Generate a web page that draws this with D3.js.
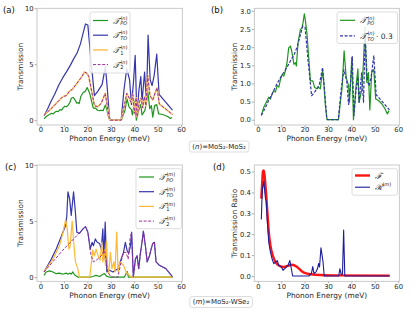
<!DOCTYPE html>
<html>
<head>
<meta charset="utf-8">
<script src="https://cdn.jsdelivr.net/npm/d3@7"></script>
<style>
  body { margin: 0; background: #fff; }
  svg { display: block; }
</style>
</head>
<body>
<svg id="chart" width="416" height="330"></svg>
<script>
const FONT = "DejaVu Sans, sans-serif";
const MATH_FONT = "DejaVu Serif, serif";

const X_DOMAIN = [-1.5, 60.5];
const X_TICKS = [0, 10, 20, 30, 40, 50, 60];
const Y_TICKS_AC = [0, 5, 10];
const Y_TICKS_B = [0, 0.5, 1.0, 1.5, 2.0, 2.5, 3.0];
const Y_TICKS_D = [0, 0.1, 0.2, 0.3, 0.4, 0.5];

// (n) = MoS2-MoS2, [energy meV, transmission]
const poN = [[1.5,0.12],[2.6,0.35],[4.0,0.53],[4.7,0.62],[5.4,0.57],[6.1,0.71],[6.8,0.80],[7.5,0.76],[8.3,0.94],[9.0,0.90],[9.7,1.12],[10.4,1.25],[11.1,1.20],[11.8,1.35],[12.5,1.57],[13.2,1.98],[13.9,2.03],[14.4,1.92],[14.9,1.75],[15.4,1.53],[16.1,1.57],[16.5,1.48],[17.2,2.12],[18.2,2.48],[18.9,2.53],[19.3,2.66],[19.9,2.92],[20.3,2.75],[21.0,2.39],[22.5,1.07],[23.5,1.07],[24.3,0.89],[25.3,0.85],[26.0,0.89],[26.7,0.85],[27.7,1.35],[28.2,1.03],[28.9,0.39],[29.6,0],[34.5,0],[35.3,0.48],[36.0,0.85],[36.9,1.90],[37.8,1.16],[38.8,0.94],[39.2,0.48],[40.2,1.71],[40.9,0],[41.9,0.85],[42.8,1.40],[43.3,0.48],[44.5,0.85],[45.2,1.60],[45.8,2.55],[46.6,1.03],[47.3,1.30],[47.9,0.27],[48.7,1.30],[49.6,1.39],[50.4,0.57],[51.6,0.53],[53.0,0.44],[54.4,0.30],[55.4,0.16],[56.1,0.25]];
const toN = [[1.5,0.4],[3.0,1.0],[4.5,1.7],[6.0,2.3],[7.7,3.1],[9.5,3.8],[11.0,4.3],[12.7,4.9],[14.2,5.5],[15.6,6.0],[17.0,6.8],[18.2,7.8],[19.2,8.6],[20.2,8.5],[21.5,5.4],[23.0,2.2],[24.5,2.6],[26.3,3.2],[27.7,4.8],[28.5,2.8],[29.4,0.3],[29.8,0],[34.4,0],[35.6,2.7],[36.8,4.6],[38.0,3.6],[38.8,1.4],[39.6,3.2],[40.4,5.8],[41.1,0.4],[42.0,2.7],[42.8,3.9],[43.3,1.6],[44.4,4.3],[45.2,1.6],[45.9,7.6],[46.8,3.6],[47.6,3.1],[48.5,4.0],[49.6,5.9],[50.6,2.3],[56.3,0.9]];
const t1N = [[1.5,0.45],[3.9,0.9],[6.7,1.5],[9.5,2.1],[11.0,2.2],[12.4,2.6],[13.5,2.75],[15.2,3.2],[17.3,3.8],[18.8,4.3],[19.8,4.2],[20.6,3.9],[22.0,2.4],[23.0,1.3],[24.4,1.2],[25.9,1.5],[27.6,2.4],[28.4,1.4],[29.4,0.1],[29.8,0],[34.4,0],[35.8,1.35],[36.8,2.4],[37.9,1.95],[38.6,1.6],[39.4,2.3],[40.0,0.6],[40.8,2.0],[41.2,0.3],[42.2,1.65],[42.9,2.0],[43.6,1.1],[44.3,2.1],[45.0,1.3],[45.7,4.0],[46.7,2.2],[47.9,1.8],[49.0,2.5],[49.7,2.9],[50.7,1.45],[56.4,0.5]];
const t2N = [[1.5,0.45],[3.9,0.9],[6.7,1.5],[9.5,2.1],[11.0,2.2],[12.4,2.6],[13.5,2.75],[15.2,3.2],[17.3,3.8],[18.8,4.3],[19.8,4.2],[20.6,3.9],[22.0,2.4],[23.0,1.3],[24.4,1.2],[25.9,1.5],[27.6,2.4],[28.4,1.4],[29.4,0.1],[29.8,0],[34.4,0],[35.8,1.35],[36.8,2.4],[37.9,1.95],[38.6,1.6],[39.4,2.3],[40.0,0.6],[40.8,2.0],[41.2,0.3],[42.2,1.65],[42.9,2.0],[43.6,1.1],[44.3,2.1],[45.0,1.3],[45.7,4.0],[46.7,2.2],[47.9,1.8],[49.0,2.5],[49.7,2.9],[50.7,1.45],[56.4,0.5]];
const TO_SCALE = 0.3;

// (m) = MoS2-WSe2
const poM = [[1.5,0.15],[2.4,0.45],[3.9,0.55],[5.3,0.45],[6.7,0.3],[8.1,0.35],[9.5,0.25],[10.9,0.35],[11.7,0.25],[12.4,0.35],[13.1,0.27],[13.8,0.45],[14.5,0.2],[15.9,0],[21.5,0],[22.3,0.05],[23.7,0.15],[25.2,0.05],[26.6,0.25],[27.3,0.3],[28.0,0.1],[29.1,0],[35.8,0],[36.5,0.3],[37.0,0.5],[37.5,0],[56.4,0]];
const toM = [[1.5,0.45],[3.0,1.0],[4.6,1.6],[6.7,2.5],[8.8,3.6],[10.7,4.6],[11.2,5.4],[11.7,7.6],[12.4,7.0],[13.1,5.5],[14.1,7.6],[14.8,6.0],[15.5,4.0],[16.6,3.9],[18.1,4.3],[19.2,4.5],[20.2,4.0],[21.2,2.5],[22.0,3.1],[22.6,2.8],[23.4,3.4],[24.2,3.1],[25.2,3.0],[25.9,2.5],[26.6,4.3],[27.0,1.6],[27.6,4.9],[28.3,0.45],[29.5,0.6],[30.9,0.45],[33.0,0.75],[34.4,1.6],[35.4,2.2],[36.2,3.1],[36.9,2.4],[37.6,2.1],[38.4,2.8],[38.9,4.0],[39.6,0],[40.5,1.6],[41.2,1.9],[41.9,0.75],[42.6,2.1],[43.3,3.1],[43.9,4.1],[44.8,2.7],[45.5,1.35],[46.5,1.9],[47.2,2.5],[47.9,3.0],[48.6,3.1],[49.3,1.35],[50.7,1.05],[53.5,0.75],[56.4,0]];
const t1M = [[1.5,0.45],[5.3,1.6],[8.1,2.8],[9.5,3.9],[10.7,5.1],[11.4,4.3],[12.1,2.5],[12.6,2.7],[13.5,5.0],[14.2,3.0],[14.9,1.35],[15.9,0.75],[16.6,0],[21.0,0],[22.3,2.4],[23.0,1.9],[23.7,2.5],[24.6,1.9],[25.4,1.5],[26.1,3.1],[26.6,1.35],[27.3,2.4],[27.7,1.05],[28.2,3.2],[28.6,1.0],[29.1,0.3],[29.8,2.2],[30.5,0.75],[31.3,1.35],[31.8,0.45],[32.5,4.0],[33.1,0.45],[33.9,1.35],[35.4,1.05],[36.5,0.45],[38.6,0],[56.4,0]];
const t2M = [[1.5,0.45],[9.5,2.4],[19.2,4.5],[20.2,4.0],[21.6,1.9],[22.6,1.35],[24.4,1.6],[25.9,1.9],[27.3,2.4],[28.7,0.45],[30.1,0],[33.0,0],[34.4,1.35],[35.4,2.2],[36.5,2.2],[37.4,1.6],[38.2,3.4],[38.8,4.0],[39.6,0],[40.5,1.6],[41.2,1.9],[41.9,0.75],[42.6,2.1],[43.3,3.1],[43.9,4.1],[44.8,2.7],[45.5,1.35],[46.5,1.9],[47.2,2.5],[47.9,3.0],[48.6,3.1],[49.3,1.35],[50.7,1.05],[53.5,0.75],[56.4,0]];

// (d) transmission ratio
const ratioF = [[1.5,0.37],[1.9,0.45],[2.2,0.50],[2.5,0.505],[2.8,0.49],[3.3,0.43],[4.0,0.32],[4.7,0.21],[5.4,0.145],[6.4,0.098],[7.6,0.066],[9.0,0.05],[11.1,0.043],[13.2,0.05],[14.7,0.054],[16.8,0.043],[18.9,0.022],[21.1,0.011],[24.6,0.006],[33.1,0.003],[56.4,0.002]];
const ratioR = [[1.5,0.27],[1.9,0.41],[2.6,0.455],[3.0,0.40],[3.3,0.37],[3.6,0.36],[4.0,0.27],[4.7,0.16],[5.4,0.114],[6.1,0.082],[6.8,0.059],[7.6,0.066],[8.3,0.074],[9.0,0.05],[10.1,0.043],[10.8,0.027],[11.5,0.035],[12.2,0.043],[12.9,0.05],[13.7,0.074],[14.2,0.043],[14.9,0],[21.8,0],[22.9,0.011],[23.5,0.045],[24.0,0.011],[24.9,0.02],[25.6,0.038],[26.0,0.06],[26.4,0.043],[27.0,0.135],[27.4,0.106],[27.9,0.066],[28.4,0],[34.6,0],[35.1,0.035],[35.7,0.006],[36.2,0.01],[36.7,0.22],[37.2,0],[56.4,0]];

const GREEN = "#1e961e";
const BLUE = "#3535ad";
const NAVY = "#1c1c9c";
const ORANGE_PALE = "#ffcc73";
const ORANGE = "#ffb833";
const PURPLE = "#9a2f9a";
const RED = "#ff1414";

const svg = d3.select("#chart");

function makePanel(tag, box, yDomain, yTicks, yFmt, yLabel, yLabelX, xLabelGap) {
  const x = d3.scaleLinear().domain(X_DOMAIN).range([box.l, box.r]);
  const y = d3.scaleLinear().domain(yDomain).range([box.b, box.t]);
  const g = svg.append("g").attr("class", "panel-" + tag);

  svg.append("clipPath").attr("id", "clip-" + tag)
    .append("rect").attr("x", box.l).attr("y", box.t)
    .attr("width", box.r - box.l).attr("height", box.b - box.t);

  const xAxis = g.append("g").attr("transform", `translate(0,${box.b})`)
    .call(d3.axisBottom(x).tickValues(X_TICKS).tickSize(2).tickPadding(0.4).tickFormat(d3.format("d")));
  const yAxis = g.append("g").attr("transform", `translate(${box.l},0)`)
    .call(d3.axisLeft(y).tickValues(yTicks).tickSize(2.5).tickPadding(0.9).tickFormat(yFmt));
  [xAxis, yAxis].forEach(a => {
    a.attr("font-family", FONT).attr("font-size", 6.8);
    a.select(".domain").remove();
    a.selectAll(".tick line").attr("stroke", "#777").attr("stroke-width", 0.6);
    a.selectAll(".tick text").attr("fill", "#262626");
  });

  g.append("text")
    .attr("x", (box.l + box.r) / 2).attr("y", box.b + xLabelGap)
    .attr("text-anchor", "middle").attr("font-family", FONT).attr("font-size", 7.4)
    .attr("fill", "#262626").text("Phonon Energy (meV)");
  g.append("text")
    .attr("transform", `translate(${yLabelX},${(box.t + box.b) / 2}) rotate(-90)`)
    .attr("dy", "0.35em").attr("text-anchor", "middle")
    .attr("font-family", FONT).attr("font-size", 7.4).attr("fill", "#262626")
    .text(yLabel);

  const plot = g.append("g").attr("clip-path", `url(#clip-${tag})`);

  g.append("rect").attr("x", box.l).attr("y", box.t)
    .attr("width", box.r - box.l).attr("height", box.b - box.t)
    .attr("fill", "none").attr("stroke", "#bcbcbc").attr("stroke-width", 0.8);

  return { x, y, g, plot };
}

function drawLine(p, data, color, width, dash, curve) {
  const line = d3.line().x(d => p.x(d[0])).y(d => p.y(d[1])).curve(curve || d3.curveLinear);
  p.plot.append("path").datum(data)
    .attr("fill", "none").attr("stroke", color).attr("stroke-width", width)
    .attr("stroke-linejoin", "round")
    .attr("stroke-dasharray", dash || null)
    .attr("d", line);
}

function mathLabel(g, x0, yb, sym, sup, sub, tail) {
  const main = g.append("text").attr("x", x0).attr("y", yb)
    .attr("font-family", MATH_FONT).attr("font-style", "italic").attr("font-size", 8.5)
    .attr("fill", "#262626").text(sym);
  const w = main.node().getComputedTextLength();
  let right = x0 + w;
  if (sup) {
    const s = g.append("text").attr("x", x0 + w + 0.4).attr("y", yb - 3.8)
      .attr("font-family", FONT).attr("font-size", 5).attr("fill", "#262626");
    sup.forEach(part => s.append("tspan").attr("font-style", part.it ? "italic" : null).text(part.t));
    right = Math.max(right, x0 + w + 0.4 + s.node().getComputedTextLength());
  }
  if (sub) {
    const s = g.append("text").attr("x", x0 + w + 0.2).attr("y", yb + 1.8)
      .attr("font-family", FONT).attr("font-size", 5).attr("fill", "#262626")
      .attr("font-style", sub.it ? "italic" : null).text(sub.t);
    right = Math.max(right, x0 + w + 0.2 + s.node().getComputedTextLength());
  }
  if (tail) {
    g.append("text").attr("x", right + 1.5).attr("y", yb)
      .attr("font-family", FONT).attr("font-size", 7.5).attr("fill", "#262626").text(tail);
  }
}

function legend(p, box, entries) {
  const lg = p.g.append("g");
  lg.append("rect").attr("x", box.x).attr("y", box.y).attr("width", box.w).attr("height", box.h)
    .attr("rx", 2).attr("fill", "#fff").attr("fill-opacity", 0.85)
    .attr("stroke", "#cfcfcf").attr("stroke-width", 0.7);
  entries.forEach((e, i) => {
    const cy = box.y + box.first + i * box.step;
    lg.append("line").attr("x1", box.x + 3).attr("x2", box.x + 18).attr("y1", cy).attr("y2", cy)
      .attr("stroke", e.color).attr("stroke-width", e.width).attr("stroke-dasharray", e.dash || null);
    mathLabel(lg, box.x + 23, cy + 3, e.sym, e.sup, e.sub, e.tail);
  });
}

function panelTag(x, y, text) {
  svg.append("text").attr("x", x).attr("y", y).attr("font-family", FONT).attr("font-size", 8.5)
    .attr("fill", "#111").text(text);
}

function caption(cx, cy, letter, rest) {
  const cg = svg.append("g");
  const t = cg.append("text").attr("x", cx).attr("y", cy).attr("text-anchor", "middle")
    .attr("font-family", FONT).attr("font-size", 7).attr("fill", "#262626");
  t.append("tspan").text("(");
  t.append("tspan").attr("font-style", "italic").text(letter);
  t.append("tspan").text(")=");
  rest.forEach(part => t.append("tspan").text(part));
  const bb = t.node().getBBox();
  cg.insert("rect", "text").attr("x", bb.x - 3).attr("y", bb.y - 1.5)
    .attr("width", bb.width + 6).attr("height", bb.height + 3).attr("rx", 2.5)
    .attr("fill", "#fff").attr("stroke", "#cfcfcf").attr("stroke-width", 0.7);
}

const supN = [{ t: "(" }, { t: "n", it: true }, { t: ")" }];
const supM = [{ t: "(" }, { t: "m", it: true }, { t: ")" }];
const TSYM = "\u{1D4AF}";

// (a)
const pa = makePanel("a", { l: 37, r: 182.3, t: 8.3, b: 125 }, [-0.43, 10], Y_TICKS_AC, d3.format("d"), "Transmission", 20, 15.8);
drawLine(pa, poN, GREEN, 1.2);
drawLine(pa, toN, BLUE, 1.2);
drawLine(pa, t1N, ORANGE_PALE, 1.8);
drawLine(pa, t2N, PURPLE, 1.0, "3,1.6");
legend(pa, { x: 90, y: 12, w: 40, h: 61, first: 8.5, step: 14.7 }, [
  { color: GREEN, width: 1.2, sym: TSYM, sup: supN, sub: { t: "PO", it: true } },
  { color: BLUE, width: 1.2, sym: TSYM, sup: supN, sub: { t: "TO", it: true } },
  { color: ORANGE_PALE, width: 1.8, sym: TSYM, sup: supN, sub: { t: "1" } },
  { color: PURPLE, width: 1.0, dash: "3,1.6", sym: TSYM, sup: supN, sub: { t: "2" } }
]);

// (b)
const pb = makePanel("b", { l: 254.3, r: 399.3, t: 8.3, b: 125 }, [-0.146, 3.07], Y_TICKS_B, d3.format(".1f"), "Transmission", 234.7, 15.8);
drawLine(pb, poN, GREEN, 1.2);
drawLine(pb, toN.map(d => [d[0], d[1] * TO_SCALE]), BLUE, 1.2, "3,1.6");
legend(pb, { x: 337, y: 12, w: 60.5, h: 31.5, first: 8.3, step: 15.5 }, [
  { color: GREEN, width: 1.2, sym: TSYM, sup: supN, sub: { t: "PO", it: true } },
  { color: BLUE, width: 1.2, dash: "3,1.6", sym: TSYM, sup: supN, sub: { t: "TO", it: true }, tail: "\u00b7 0.3" }
]);

// (c)
const pc = makePanel("c", { l: 37, r: 182.3, t: 165, b: 281.3 }, [-0.38, 10], Y_TICKS_AC, d3.format("d"), "Transmission", 20, 16.5);
drawLine(pc, poM, GREEN, 1.2);
drawLine(pc, toM, BLUE, 1.2);
drawLine(pc, t1M, ORANGE, 1.2);
drawLine(pc, t2M, PURPLE, 1.0, "3,1.6");
legend(pc, { x: 136, y: 168.7, w: 45.5, h: 60, first: 8.3, step: 14.7 }, [
  { color: GREEN, width: 1.2, sym: TSYM, sup: supM, sub: { t: "PO", it: true } },
  { color: BLUE, width: 1.2, sym: TSYM, sup: supM, sub: { t: "TO", it: true } },
  { color: ORANGE, width: 1.2, sym: TSYM, sup: supM, sub: { t: "1" } },
  { color: PURPLE, width: 1.0, dash: "3,1.6", sym: TSYM, sup: supM, sub: { t: "2" } }
]);

// (d)
const pd = makePanel("d", { l: 254.3, r: 399.3, t: 165, b: 281.3 }, [-0.0253, 0.531], Y_TICKS_D, d3.format(".1f"), "Transmission Ratio", 234.5, 16.5);
drawLine(pd, ratioF, RED, 2.4, null, d3.curveMonotoneX);
drawLine(pd, ratioR, NAVY, 1.1);
legend(pd, { x: 352, y: 168.7, w: 45.5, h: 26.5, first: 6.8, step: 11.7 }, [
  { color: RED, width: 2.4, sym: "\u2131" },
  { color: NAVY, width: 1.1, sym: "\u211B", sup: supM }
]);

panelTag(3, 12.5, "(a)");
panelTag(211, 12.5, "(b)");
panelTag(5, 169.5, "(c)");
panelTag(213, 170, "(d)");

caption(219, 148.5, "n", ["MoS\u2082-MoS\u2082"]);
caption(221, 304, "m", ["MoS\u2082-WSe\u2082"]);
</script>
</body>
</html>
